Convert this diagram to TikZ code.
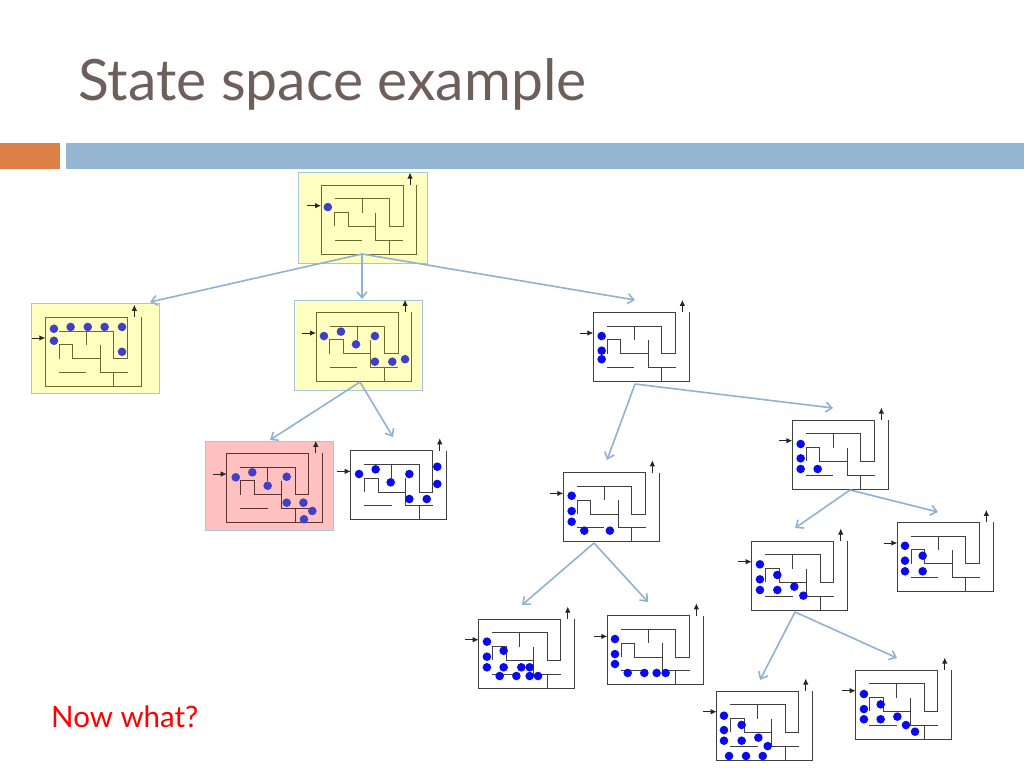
\documentclass[tikz,border=0pt]{standalone}
\usepackage{fontspec}
\setmainfont{Lato}
\usetikzlibrary{arrows.meta}
\definecolor{barblue}{HTML}{94B6D2}
\definecolor{barorange}{HTML}{DD8047}
\definecolor{titlec}{HTML}{6E5F5A}
\definecolor{yel}{HTML}{FFFFC0}
\definecolor{pnk}{HTML}{FFC0C0}
\definecolor{olive}{HTML}{6B6B30}
\definecolor{darkb}{HTML}{5A3030}
\definecolor{dotp}{HTML}{3F3FC8}
\definecolor{dotb}{HTML}{0A0AF0}
\definecolor{connc}{HTML}{8FB2D2}
\newcommand\mz[5]{%
\begin{scope}[shift={(#1,#2)},x=13.7pt,y=-13.8pt]
\draw[#3,line width=0.9pt] (7,0)--(7,5)--(0,5)--(0,0)--(6,0)--(6,3)--(5,3)--(5,1)--(1,1)
 (3,1)--(3,2) (1,3)--(1,2)--(2,2)--(2,3)--(4,3) (4,2)--(4,4)--(6,4) (5,4)--(5,5) (1,4)--(3,4);
\draw[black!85,line width=0.9pt,-{Latex[length=6pt,width=5.5pt]}] (6.5,0)--(6.5,-0.9);
\draw[black!85,line width=0.9pt,-{Latex[length=6pt,width=5.5pt]}] (-1,1.5)--(0,1.5);
\foreach \p in {#5} \fill[#4] \p circle[radius=4.3pt];
\end{scope}}
\tikzset{connarrow/.style={draw=connc,line width=1.6pt,-{Straight Barb[length=6pt,width=10pt]}},
 statebox/.style={draw=barblue!80,line width=0.8pt}}
\begin{document}
\begin{tikzpicture}[x=1pt,y=-1pt]
\useasboundingbox (0,0) rectangle (1024,768);
\node[anchor=west,text=titlec,font=\fontsize{57}{60}\selectfont,inner sep=0] (title) at (78,84) {State space example};
\fill[barorange] (0,143) rectangle (60,169);
\fill[barblue] (66,143) rectangle (1024,169);
% boxes
\filldraw[statebox,fill=yel] (298,172) rectangle (427,263);
\filldraw[statebox,fill=yel] (31,303) rectangle (159,393);
\filldraw[statebox,fill=yel] (294,300) rectangle (422,390);
\filldraw[statebox,fill=pnk] (205,441) rectangle (333,530);
% mazes
\mz{321}{185}{olive}{dotp}{(0.5,1.6)}
\mz{45.3}{317.3}{olive}{dotp}{(0.63,0.83),(1.85,0.7),(3.1,0.7),(4.33,0.7),(5.6,0.7),(0.63,1.7),(5.6,2.5)}
\mz{316}{312.3}{olive}{dotp}{(0.58,1.72),(1.82,1.4),(2.92,2.32),(4.3,1.72),(4.3,3.58),(5.57,3.58),(6.5,3.4)}
\mz{226.7}{453.3}{darkb}{dotp}{(0.66,1.74),(1.87,1.38),(2.99,2.35),(4.38,1.7),(4.38,3.58),(5.6,3.58),(6.25,4.18),(5.64,4.78)}
\mz{350.7}{450.7}{black!75}{dotb}{(0.61,1.69),(1.82,1.35),(2.92,2.29),(4.28,1.69),(6.32,1.16),(6.32,2.41),(4.28,3.5),(5.55,3.5)}
\mz{593.3}{312.3}{black!75}{dotb}{(0.61,1.72),(0.61,2.78),(0.61,3.4)}
\mz{792.3}{420}{black!75}{dotb}{(0.61,1.74),(0.61,2.78),(0.61,3.55),(1.85,3.55)}
\mz{563.3}{472.7}{black!75}{dotb}{(0.61,1.67),(0.61,2.78),(0.61,3.55),(1.53,4.2),(3.4,4.2)}
\mz{897.3}{522.3}{black!75}{dotb}{(0.56,1.7),(0.56,2.78),(0.56,3.55),(1.85,2.42),(1.85,3.55)}
\mz{751.7}{541}{black!75}{dotb}{(0.6,1.69),(0.6,2.78),(0.6,3.55),(1.87,2.46),(1.87,3.55),(3.11,3.31),(3.77,3.96)}
\mz{478.7}{619}{black!75}{dotb}{(0.6,1.64),(0.6,2.73),(0.6,3.5),(1.82,2.3),(1.82,3.5),(1.53,4.13),(2.75,4.13),(3.11,3.5),(3.72,3.5),(3.72,4.13),(4.33,4.13)}
\mz{607.3}{615.7}{black!75}{dotb}{(0.56,1.69),(0.56,2.78),(0.56,3.5),(1.49,4.15),(2.7,4.15),(3.6,4.15),(4.26,4.15)}
\mz{716.7}{691}{black!75}{dotb}{(0.53,1.79),(0.53,2.83),(0.53,3.6),(1.82,2.46),(1.82,3.6),(3.04,3.38),(3.72,3.99),(0.9,4.71),(2.14,4.71),(3.36,4.71)}
\mz{855.7}{670}{black!75}{dotb}{(0.6,1.74),(0.6,2.83),(0.6,3.57),(1.82,2.49),(1.82,3.57),(3.04,3.38),(3.67,3.99),(4.33,4.47)}
% connector anchors
\coordinate (s1) at (362,254);
\coordinate (s2) at (150,302);
\coordinate (s3) at (362,299);
\coordinate (s6) at (635,300);
\coordinate (s3b) at (360,382);
\coordinate (s4) at (270,440);
\coordinate (s5) at (393,437);
\coordinate (s6b) at (635,384);
\coordinate (s8) at (607,460);
\coordinate (s7) at (833,408);
\coordinate (s7b) at (850,490);
\coordinate (s10) at (795,528);
\coordinate (s9) at (938,512);
\coordinate (s8b) at (594,543);
\coordinate (s11) at (522,605);
\coordinate (s12) at (648,602);
\coordinate (s10b) at (795,612);
\coordinate (s13) at (760,680);
\coordinate (s14) at (897,658);
\draw[connarrow] (s1)--(s2); \draw[connarrow] (s1)--(s3); \draw[connarrow] (s1)--(s6);
\draw[connarrow] (s3b)--(s4); \draw[connarrow] (s3b)--(s5);
\draw[connarrow] (s6b)--(s8); \draw[connarrow] (s6b)--(s7);
\draw[connarrow] (s7b)--(s10); \draw[connarrow] (s7b)--(s9);
\draw[connarrow] (s8b)--(s11); \draw[connarrow] (s8b)--(s12);
\draw[connarrow] (s10b)--(s13); \draw[connarrow] (s10b)--(s14);
\node[anchor=west,text=red,font=\fontsize{29.5}{32}\selectfont,inner sep=0] (nw) at (51,717) {Now what?};
\end{tikzpicture}
\end{document}
